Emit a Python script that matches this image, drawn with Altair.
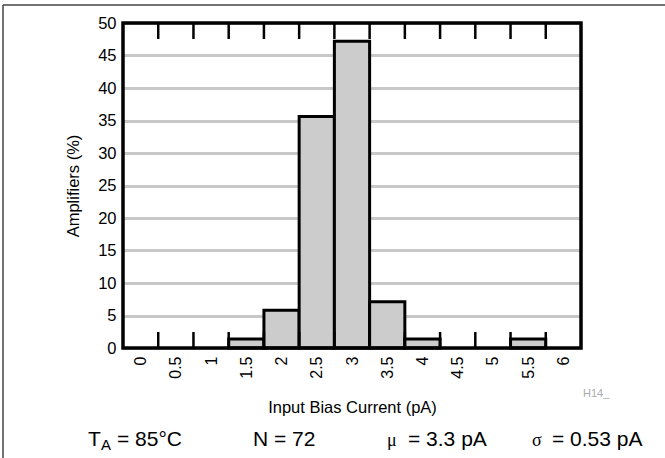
import altair as alt
import pandas as pd

currents = [0, 0.5, 1, 1.5, 2, 2.5, 3, 3.5, 4, 4.5, 5, 5.5, 6]
percents = [0, 0, 0, 1.4, 5.8, 35.6, 47.2, 7.1, 1.4, 0, 0, 1.4, 0]
y_ticks = [0, 5, 10, 15, 20, 25, 30, 35, 40, 45, 50]
boundaries = [c + 0.25 for c in currents[:-1]]

FONT = "Liberation Sans"
W, H = 458, 325

df = pd.DataFrame({"cur": currents, "pct": percents})
tick_df = pd.DataFrame({"b": boundaries})
one = pd.DataFrame({"k": [0]})

xscale = alt.Scale(domain=[-0.25, 6.25], nice=False, zero=False)
yscale = alt.Scale(domain=[0, 50], nice=False)

xaxis = alt.Axis(
    values=currents, tickCount=13, format="~g", labelAngle=270, labelFontSize=16,
    labelFont=FONT, labelColor="black", labelPadding=8, ticks=False, domain=False,
    labelOverlap=False, labelFlush=False, labelBound=False,
    grid=False, title="Input Bias Current (pA)", titleFont=FONT, titleFontSize=16.5,
    titleFontWeight="normal", titleColor="black", titlePadding=21)

bars = alt.Chart(df).transform_filter("datum.pct > 0").transform_calculate(
    x0="datum.cur - 0.25", x1="datum.cur + 0.25"
).mark_rect(fill="#cccccc", stroke="black", strokeWidth=3).encode(
    x=alt.X("x0:Q", scale=xscale, axis=xaxis),
    x2="x1:Q",
    y=alt.Y("pct:Q", scale=yscale, axis=alt.Axis(
        values=y_ticks, labelFontSize=16.5, labelFont=FONT, labelColor="black",
        labelPadding=7, ticks=False, domain=False, grid=True, gridColor="#c8c8c8",
        labelOverlap=False, labelFlush=False, labelBound=False,
        gridWidth=3, title="Amplifiers (%)", titleFont=FONT, titleFontSize=16.5,
        titleFontWeight="normal", titleColor="black", titlePadding=16.5)),
    y2=alt.datum(0),
)

top_ticks = alt.Chart(tick_df).mark_rule(color="black", strokeWidth=2.5).encode(
    x=alt.X("b:Q", scale=xscale, axis=xaxis), y=alt.value(0), y2=alt.value(16)
)
bot_ticks = alt.Chart(tick_df).mark_rule(color="black", strokeWidth=2.5).encode(
    x=alt.X("b:Q", scale=xscale, axis=xaxis), y=alt.value(H - 16), y2=alt.value(H)
)

frame = alt.Chart(one).mark_rect(fillOpacity=0, stroke="black", strokeWidth=3.5).encode(
    x=alt.value(0), x2=alt.value(W), y=alt.value(0), y2=alt.value(H)
)

# outer border (top and left)
border_top = alt.Chart(one).mark_rule(color="#444444", strokeWidth=1.5).encode(
    x=alt.value(-120), x2=alt.value(545), y=alt.value(-18)
)
border_left = alt.Chart(one).mark_rule(color="#444444", strokeWidth=1.5).encode(
    x=alt.value(-120), y=alt.value(-18), y2=alt.value(440)
)

def txt(s, x, y, size=21, color="black", font=FONT, align="left"):
    return alt.Chart(one).mark_text(
        text=s, font=font, fontSize=size, color=color, align=align,
        baseline="alphabetic", fontWeight="normal"
    ).encode(x=alt.value(x), y=alt.value(y))

base_y = 423
notes = [
    txt("H14_", 460, 374, size=11, color="#aaaaaa"),
    txt("T", -35, base_y),
    txt("A", -22, base_y + 4, size=15),
    txt("= 85°C", -6, base_y),
    txt("N = 72", 130, base_y),
    txt("μ", 264, base_y, size=18, font="Liberation Serif"),
    txt("= 3.3 pA", 285, base_y),
    txt("σ", 409, base_y, size=18, font="Liberation Serif"),
    txt("= 0.53 pA", 429, base_y),
]

chart = alt.layer(
    bars, top_ticks, bot_ticks, frame, border_top, border_left, *notes
).properties(
    width=W, height=H,
    autosize=alt.AutoSizeParams(type="none"),
    padding={"left": 123, "top": 23, "right": 84, "bottom": 110},
).configure_view(stroke=None).configure(background="white")

chart.save("out.html", embed_options={"renderer": "svg", "actions": False})
